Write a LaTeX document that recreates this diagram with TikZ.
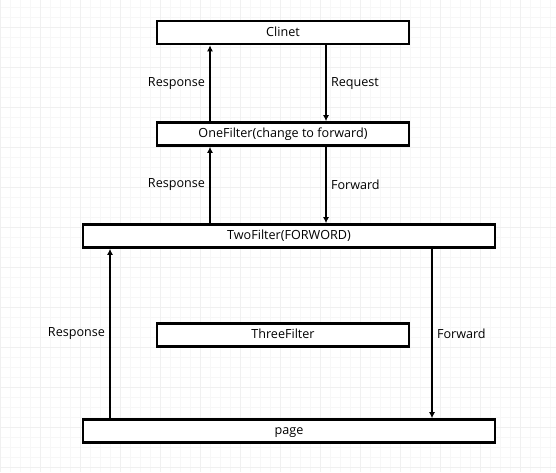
\documentclass[tikz,border=0pt]{standalone}
\usepackage{fontspec}
\setmainfont{Open Sans}
\usetikzlibrary{arrows.meta}
\begin{document}
\begin{tikzpicture}[x=1pt,y=-1pt,
  box/.style={draw=black,line width=2.6pt,fill=white,minimum height=23pt,inner sep=0pt,text height=9.5pt,text depth=2.5pt,font=\fontsize{12.6}{14}\selectfont},
  arr/.style={draw=black,line width=2pt,-{Latex[length=6pt,width=6pt]}},
  lbl/.style={font=\fontsize{12.6}{14}\selectfont,inner sep=4pt}]
\fill[white] (0,0) rectangle (556,472);
\useasboundingbox (0,0) rectangle (556,472);
\foreach \i in {0,10,...,550} \draw[black!3,line width=0.6pt] (\i,0) -- (\i,472);
\foreach \j in {7,17,...,467} \draw[black!3,line width=0.6pt] (0,\j) -- (556,\j);
\foreach \i in {0,40,...,550} \draw[black!6,line width=1pt] (\i,0) -- (\i,472);
\foreach \j in {27,67,...,467} \draw[black!6,line width=1pt] (0,\j) -- (556,\j);

\node[box,minimum width=252pt] (clinet) at (283,32.5) {Clinet};
\node[box,minimum width=252pt] (one) at (283,134) {OneFilter(change to forward)};
\node[box,minimum width=412pt] (two) at (289,236) {TwoFilter(FORWORD)};
\node[box,minimum width=252pt] (three) at (283,335) {ThreeFilter};
\node[box,minimum width=412pt] (page) at (289,431) {page};

\coordinate (xa) at (210,0);
\coordinate (xb) at (326,0);
\coordinate (xc) at (110,0);
\coordinate (xd) at (432,0);

\draw[arr] (one.north -| xa) -- node[lbl,left] {Response} (clinet.south -| xa);
\draw[arr] (clinet.south -| xb) -- node[lbl,right] {Request} (one.north -| xb);
\draw[arr] (two.north -| xa) -- node[lbl,left] {Response} (one.south -| xa);
\draw[arr] (one.south -| xb) -- node[lbl,right] {Forward} (two.north -| xb);
\draw[arr] (page.north -| xc) -- node[lbl,left] {Response} (two.south -| xc);
\draw[arr] (two.south -| xd) -- node[lbl,right] {Forward} (page.north -| xd);
\end{tikzpicture}
\end{document}
